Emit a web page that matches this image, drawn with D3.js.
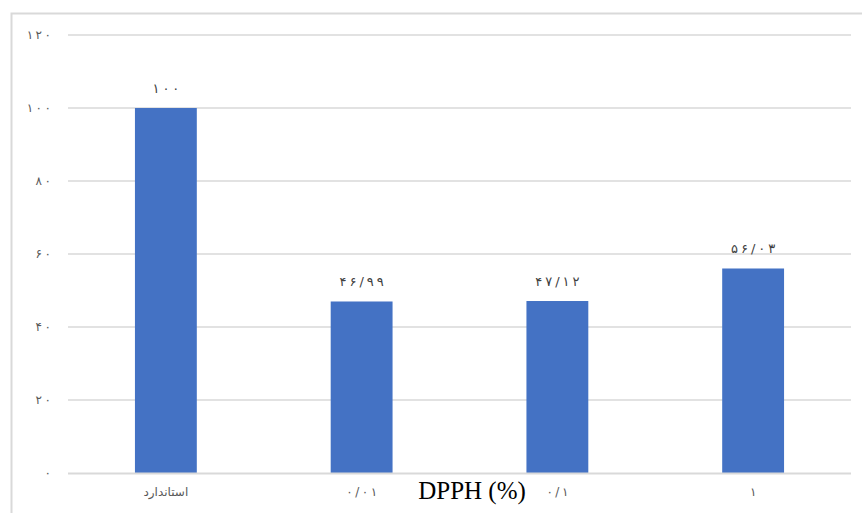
<!DOCTYPE html>
<html>
<head>
<meta charset="utf-8">
<script src="https://cdn.jsdelivr.net/npm/d3@7"></script>
<style>
  html, body { margin: 0; padding: 0; background: #fff; }
  svg { display: block; }
</style>
</head>
<body>
<svg id="chart" width="862" height="513"></svg>
<script>
// Antioxidant activity (DPPH %) for the standard and three concentrations
const categories = ["استاندارد", "۰/۰۱", "۰/۱", "۱"];
const values = [100, 46.99, 47.12, 56.03];
const valueLabels = ["۱۰۰", "۴۶/۹۹", "۴۷/۱۲", "۵۶/۰۳"];
const yTicks = [0, 20, 40, 60, 80, 100, 120];
const yTickLabels = ["۰", "۲۰", "۴۰", "۶۰", "۸۰", "۱۰۰", "۱۲۰"];
const axisTitle = "DPPH (%)";

const svg = d3.select("#chart");
const W = 862, H = 513;
const plot = { left: 68, right: 851, top: 35, bottom: 473 };
const numFont = "'DejaVu Sans', sans-serif";

// Persian numerals are cursive-script text, so spacing is added per glyph
function spaced(sel, gap) {
  sel.each(function () {
    const t = d3.select(this);
    const s = t.text();
    t.text(null);
    Array.from(s).forEach((ch, k) => {
      t.append("tspan").attr("dx", k === 0 ? 0 : gap).text(ch);
    });
  });
}

// chart frame (top and left edges visible)
svg.append("path")
  .attr("d", `M11.5,${H} L11.5,13.5 L${W},13.5`)
  .attr("fill", "none")
  .attr("stroke", "#d9d9d9")
  .attr("stroke-width", 2);

const x = d3.scaleBand()
  .domain(categories)
  .range([plot.left, plot.right])
  .paddingInner(0.684)
  .paddingOuter(0.342);

const y = d3.scaleLinear()
  .domain([0, 120])
  .range([plot.bottom, plot.top]);

// horizontal gridlines
svg.append("g")
  .selectAll("line")
  .data(yTicks.filter(d => d > 0))
  .join("line")
  .attr("x1", plot.left)
  .attr("x2", plot.right)
  .attr("y1", d => y(d))
  .attr("y2", d => y(d))
  .attr("stroke", "#d9d9d9")
  .attr("stroke-width", 1.5);

// y axis tick labels
const yAxis = d3.axisLeft(y)
  .tickValues(yTicks)
  .tickSize(0)
  .tickPadding(0)
  .tickFormat((d, i) => yTickLabels[i]);

const yg = svg.append("g")
  .attr("transform", `translate(51,0)`)
  .call(yAxis);
yg.select(".domain").remove();
yg.selectAll("text")
  .attr("fill", "#595959")
  .attr("font-family", numFont)
  .attr("font-size", 12)
  .attr("direction", "ltr")
  .call(spaced, 2.5);

// bars
svg.append("g")
  .selectAll("rect")
  .data(values)
  .join("rect")
  .attr("x", (d, i) => x(categories[i]))
  .attr("width", x.bandwidth())
  .attr("y", d => y(d))
  .attr("height", d => y(0) - y(d))
  .attr("fill", "#4472c4");

// baseline
svg.append("line")
  .attr("x1", plot.left)
  .attr("x2", plot.right)
  .attr("y1", y(0) + 0.5)
  .attr("y2", y(0) + 0.5)
  .attr("stroke", "#d9d9d9")
  .attr("stroke-width", 2);

// value labels above bars
svg.append("g")
  .selectAll("text")
  .data(values)
  .join("text")
  .attr("x", (d, i) => x(categories[i]) + x.bandwidth() / 2)
  .attr("y", d => y(d) - 15)
  .attr("text-anchor", "middle")
  .attr("direction", "ltr")
  .attr("fill", "#404040")
  .attr("font-family", numFont)
  .attr("font-size", 13)
  .text((d, i) => valueLabels[i])
  .call(spaced, 3);

// x axis category labels
const xAxis = d3.axisBottom(x).tickSize(0).tickPadding(0);
const xg = svg.append("g")
  .attr("transform", `translate(0,${plot.bottom + 14})`)
  .call(xAxis);
xg.select(".domain").remove();
xg.selectAll("text")
  .attr("fill", "#595959")
  .attr("font-family", numFont)
  .attr("font-size", 12)
  .attr("direction", "ltr");
xg.selectAll("text").filter((d, i) => i > 0).call(spaced, 2.5);

// axis title
svg.append("text")
  .attr("x", 472)
  .attr("y", 499)
  .attr("text-anchor", "middle")
  .attr("fill", "#000")
  .attr("font-family", "'Liberation Serif', 'Times New Roman', serif")
  .attr("font-size", 25)
  .text(axisTitle);
</script>
</body>
</html>
